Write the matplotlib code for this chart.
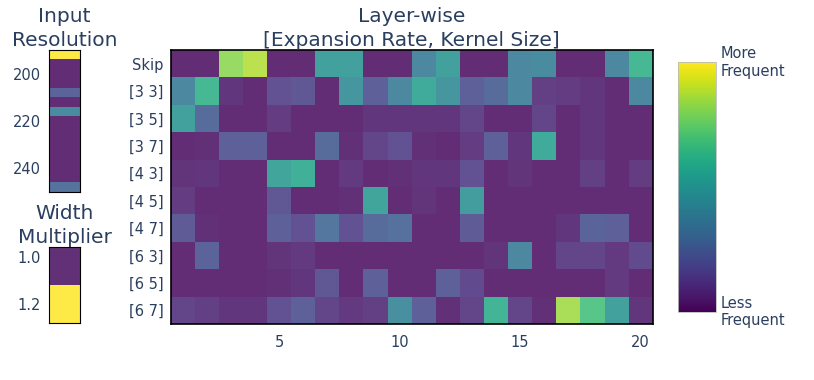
import numpy as np
import matplotlib.pyplot as plt

# ---- data (relative selection frequency, 0 = less, 1 = more) ----
ops = ["Skip", "[3 3]", "[3 5]", "[3 7]", "[4 3]", "[4 5]", "[4 7]", "[6 3]", "[6 5]", "[6 7]"]
layers = list(range(1, 21))

freq_skip = [0.02, 0.02, 0.82, 0.88, 0.02, 0.02, 0.50, 0.50, 0.02, 0.02, 0.38, 0.50, 0.02, 0.02, 0.38, 0.40, 0.02, 0.02, 0.38, 0.62]
freq_33 = [0.38, 0.62, 0.05, 0.02, 0.15, 0.17, 0.02, 0.45, 0.20, 0.38, 0.55, 0.45, 0.20, 0.25, 0.38, 0.08, 0.07, 0.05, 0.02, 0.38]
freq_35 = [0.50, 0.25, 0.02, 0.02, 0.07, 0.02, 0.02, 0.02, 0.05, 0.05, 0.05, 0.05, 0.10, 0.02, 0.02, 0.10, 0.02, 0.05, 0.02, 0.02]
freq_37 = [0.02, 0.03, 0.20, 0.20, 0.02, 0.02, 0.25, 0.03, 0.10, 0.15, 0.03, 0.02, 0.07, 0.20, 0.05, 0.55, 0.02, 0.05, 0.02, 0.02]
freq_43 = [0.04, 0.05, 0.02, 0.02, 0.52, 0.58, 0.02, 0.06, 0.02, 0.03, 0.05, 0.05, 0.15, 0.02, 0.04, 0.02, 0.02, 0.08, 0.02, 0.07]
freq_45 = [0.07, 0.02, 0.02, 0.02, 0.17, 0.02, 0.02, 0.03, 0.52, 0.02, 0.04, 0.02, 0.48, 0.02, 0.02, 0.02, 0.02, 0.02, 0.02, 0.02]
freq_47 = [0.18, 0.03, 0.02, 0.02, 0.20, 0.15, 0.30, 0.15, 0.25, 0.27, 0.02, 0.02, 0.18, 0.02, 0.02, 0.02, 0.05, 0.22, 0.20, 0.02]
freq_63 = [0.02, 0.22, 0.02, 0.02, 0.04, 0.06, 0.02, 0.02, 0.02, 0.02, 0.02, 0.02, 0.02, 0.04, 0.38, 0.02, 0.10, 0.10, 0.06, 0.12]
freq_65 = [0.02, 0.02, 0.02, 0.02, 0.03, 0.05, 0.17, 0.02, 0.20, 0.02, 0.02, 0.20, 0.12, 0.02, 0.02, 0.02, 0.02, 0.02, 0.06, 0.02]
freq_67 = [0.10, 0.08, 0.05, 0.05, 0.15, 0.20, 0.10, 0.06, 0.08, 0.42, 0.20, 0.03, 0.10, 0.60, 0.10, 0.03, 0.85, 0.68, 0.50, 0.05]

resolutions = [192, 196, 200, 204, 208, 212, 216, 220, 224, 228, 232, 236, 240, 244, 248]
freq_res = [1.0, 0.02, 0.02, 0.02, 0.22, 0.02, 0.40, 0.02, 0.02, 0.02, 0.02, 0.02, 0.02, 0.02, 0.28]

widths = [1.0, 1.2]
width_edges = [0.955, 1.12, 1.285]
freq_width = [0.03, 1.0]

txt = "#2a3f5f"
cmap = "viridis"
alpha = 0.85

fig = plt.figure(figsize=(8.14, 3.8), dpi=100)

# main layer-wise heatmap
ax = fig.add_axes([0.2095, 0.1474, 0.5924, 0.7211])
z = np.array([freq_skip, freq_33, freq_35, freq_37, freq_43, freq_45, freq_47, freq_63, freq_65, freq_67])
xe = np.arange(len(layers) + 1) + 0.5
ye = np.arange(len(ops) + 1) - 0.5
ax.pcolormesh(xe, ye, z, cmap=cmap, vmin=0, vmax=1, alpha=alpha, edgecolors="none")
ax.set_xlim(xe[0], xe[-1])
ax.set_ylim(ye[-1], ye[0])
ax.set_yticks(range(len(ops)))
ax.set_yticklabels(ops)
ax.set_xticks([5, 10, 15, 20])
ax.tick_params(length=0, labelsize=10.5, labelcolor=txt)
ax.tick_params(axis="y", pad=5)
ax.tick_params(axis="x", pad=8)
ax.set_title("Layer-wise\n[Expansion Rate, Kernel Size]", fontsize=14.5, color=txt, pad=3, linespacing=1.35)
for s in ax.spines.values():
    s.set_linewidth(1.2)

# input resolution
ax_r = fig.add_axes([0.0606, 0.4955, 0.0377, 0.3729])
r = np.array(resolutions)
re = np.concatenate([r - 2, [r[-1] + 2]])
ax_r.pcolormesh([0, 1], re, np.array(freq_res)[:, None], cmap=cmap, vmin=0, vmax=1, alpha=alpha)
ax_r.set_ylim(re[-1], re[0])
ax_r.set_xticks([])
ax_r.set_yticks([200, 220, 240])
ax_r.tick_params(length=0, labelsize=10.5, labelcolor=txt, pad=6)
ax_r.set_title("Input\nResolution", fontsize=14.5, color=txt, pad=3, linespacing=1.3)

# width multiplier
ax_w = fig.add_axes([0.0606, 0.1492, 0.0377, 0.2016])
ax_w.pcolormesh([0, 1], width_edges, np.array(freq_width)[:, None], cmap=cmap, vmin=0, vmax=1, alpha=alpha)
ax_w.set_ylim(width_edges[-1], width_edges[0])
ax_w.set_xticks([])
ax_w.set_yticks(widths)
ax_w.set_yticklabels(["1.0", "1.2"])
ax_w.tick_params(length=0, labelsize=10.5, labelcolor=txt, pad=6)
ax_w.set_title("Width\nMultiplier", fontsize=14.5, color=txt, pad=3, linespacing=1.3)

# colorbar
cax = fig.add_axes([0.833, 0.1797, 0.0463, 0.6563])
sm = plt.cm.ScalarMappable(cmap=cmap, norm=plt.Normalize(0, 1))
cb = fig.colorbar(sm, cax=cax)
cb.set_ticks([])
cb.outline.set_edgecolor("#bbbbbb")
cb.outline.set_linewidth(0.6)
cax.text(1.12, 1.0, "More\nFrequent", transform=cax.transAxes, ha="left", va="center",
         fontsize=10.5, color=txt, linespacing=1.2)
cax.text(1.12, 0.0, "Less\nFrequent", transform=cax.transAxes, ha="left", va="center",
         fontsize=10.5, color=txt, linespacing=1.2)

fig.savefig("out.png", dpi=100)
